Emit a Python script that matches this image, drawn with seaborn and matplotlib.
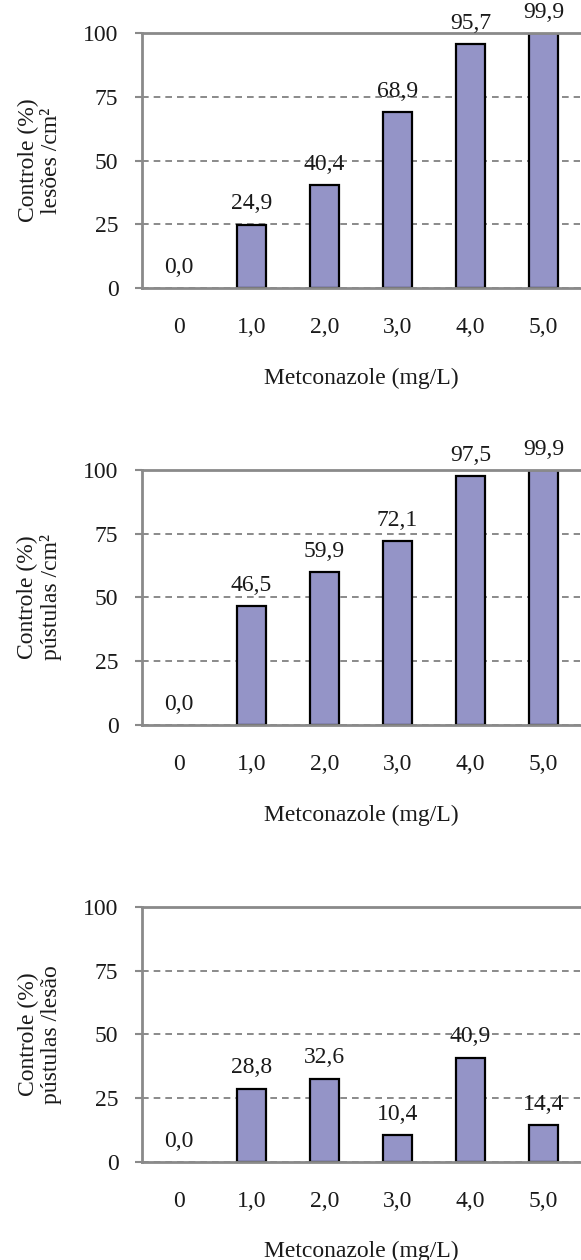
import matplotlib
matplotlib.use("Agg")
import matplotlib.pyplot as plt
import seaborn as sns
import pandas as pd
import numpy as np

# Metconazole doses and control efficacy (%) for each response variable
doses = ["0", "1,0", "2,0", "3,0", "4,0", "5,0"]
lesoes_cm2 = [0.0, 24.9, 40.4, 68.9, 95.7, 99.9]
pustulas_cm2 = [0.0, 46.5, 59.9, 72.1, 97.5, 99.9]
pustulas_lesao = [0.0, 28.8, 32.6, 10.4, 40.9, 14.4]

ylabels = [
    "Controle (%)\nlesões /cm²",
    "Controle (%)\npústulas /cm²",
    "Controle (%)\npústulas /lesão",
]
xlabel = "Metconazole (mg/L)"
yticks = [0, 25, 50, 75, 100]

sns.set_style("white")
plt.rcParams["font.family"] = ["Liberation Serif", "DejaVu Serif"]
plt.rcParams["text.color"] = "#1a1a1a"
plt.rcParams["axes.labelcolor"] = "#1a1a1a"
plt.rcParams["xtick.color"] = "#1a1a1a"
plt.rcParams["ytick.color"] = "#1a1a1a"

bar_color = "#9494C7"
axis_grey = "#8a8a8a"
FS = 17

fig = plt.figure(figsize=(5.81, 12.6), dpi=100)

panels = [lesoes_cm2, pustulas_cm2, pustulas_lesao]
bottoms = [0.7714, 0.4246, 0.0778]
left, width, height = 0.2444, 0.754, 0.2024

for values, ylab, bottom in zip(panels, ylabels, bottoms):
    ax = fig.add_axes([left, bottom, width, height])
    df = pd.DataFrame({"dose": doses, "controle": values})
    sns.barplot(data=df, x="dose", y="controle", order=doses,
                color=bar_color, saturation=1, width=0.4,
                edgecolor="black", linewidth=1.6, ax=ax, zorder=3)
    # a zero-height bar leaves no visible outline
    for patch, v in zip(ax.patches, values):
        if v == 0:
            patch.set_linewidth(0)

    ax.set_xlim(-0.5, len(doses) - 0.5)
    ax.set_ylim(0, 100)
    ax.set_yticks(yticks)
    ax.set_yticklabels([str(t) for t in yticks], fontsize=FS)

    # category labels centered, tick marks between categories
    ax.set_xticks(range(len(doses)))
    ax.set_xticklabels(doses, fontsize=FS)
    ax.set_xticks(np.arange(-0.5, len(doses), 1.0), minor=True)
    ax.tick_params(axis="x", which="major", length=0, pad=21)
    ax.tick_params(axis="x", which="minor", length=5, width=1.5,
                   color=axis_grey, direction="out")
    ax.tick_params(axis="y", length=5, width=1.5, color=axis_grey,
                   direction="out", pad=12, left=True)

    ax.yaxis.grid(True, linestyle=(0, (4, 3)), color="#777777", linewidth=1.2)
    ax.xaxis.grid(False)
    ax.set_axisbelow(True)

    for side in ["left", "bottom", "top"]:
        ax.spines[side].set_visible(True)
        ax.spines[side].set_color(axis_grey)
        ax.spines[side].set_linewidth(2)
        ax.spines[side].set_zorder(4)
    ax.spines["right"].set_visible(False)

    for i, v in enumerate(values):
        ax.annotate(f"{v:.1f}".replace(".", ","), xy=(i, v),
                    xytext=(0, 7.5), textcoords="offset points",
                    ha="center", va="bottom", fontsize=FS, zorder=5)

    ax.set_xlabel(xlabel, fontsize=FS, labelpad=21)
    ax.set_ylabel(ylab, fontsize=FS, labelpad=15, linespacing=1.15)

fig.savefig("out.png", dpi=100)
